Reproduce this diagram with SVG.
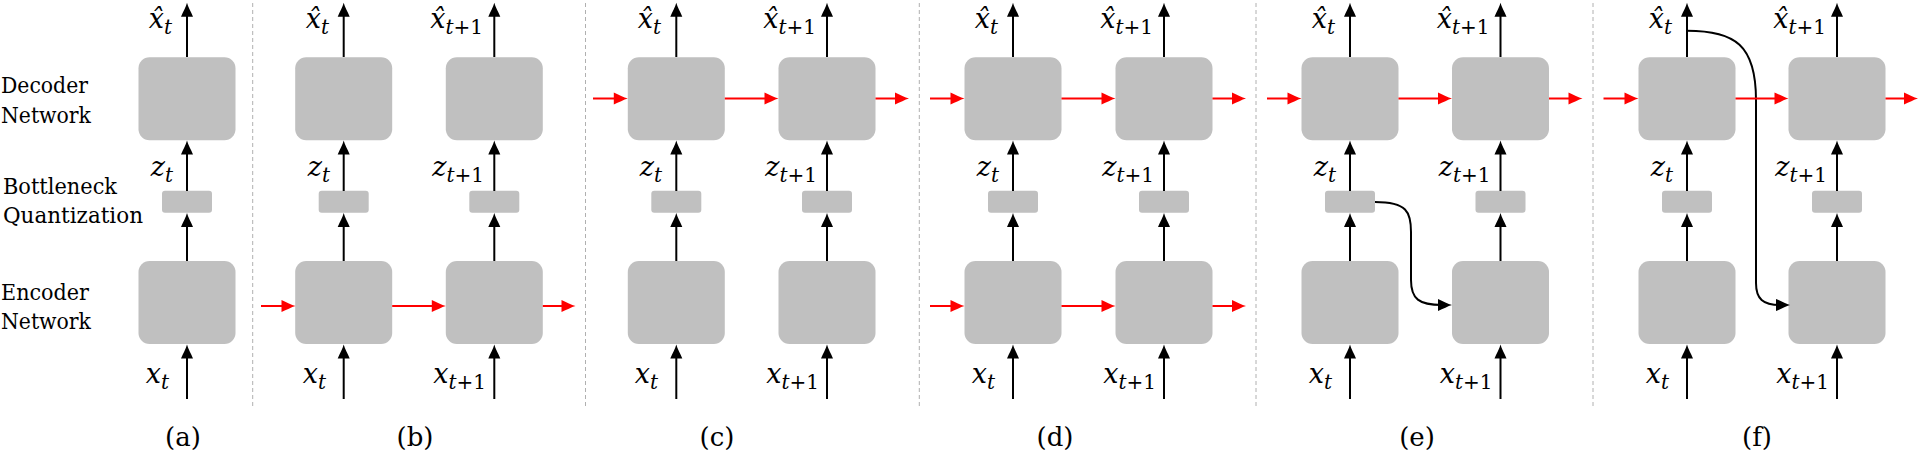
<svg xmlns="http://www.w3.org/2000/svg" width="1919" height="455" viewBox="0 0 1919 455">
<style>
.box{fill:#c0c0c0}
.ar{stroke:#000;stroke-width:2;fill:none;marker-end:url(#ah)}
.rd{stroke:#f00;stroke-width:2;fill:none;marker-end:url(#rh)}
.dv{stroke:#b0b0b0;stroke-width:1;stroke-dasharray:4 3}
.lbl{font-family:'DejaVu Serif','Liberation Serif',serif;font-size:21.5px;fill:#000}
.m{font-family:'DejaVu Serif','Liberation Serif',serif;font-style:italic;font-size:27px;fill:#000;text-anchor:end}
.s{font-size:20px}
.up{font-style:normal}
.cap{font-family:'DejaVu Serif','Liberation Serif',serif;font-size:26px;text-anchor:middle;fill:#000}
</style>
<defs>
<marker id="ah" markerUnits="userSpaceOnUse" markerWidth="20" markerHeight="20" refX="4" refY="0" orient="auto" overflow="visible">
<path d="M0,-6 C5,-4 10,-1 14,0 C10,1 5,4 0,6 Z" fill="#000"/>
</marker>
<marker id="rh" markerUnits="userSpaceOnUse" markerWidth="20" markerHeight="20" refX="4" refY="0" orient="auto" overflow="visible">
<path d="M0,-6 C5,-4 10,-1 14,0 C10,1 5,4 0,6 Z" fill="#f00"/>
</marker>
</defs>

<g id="side-labels">
<text class="lbl" x="1" y="93" textLength="87" lengthAdjust="spacingAndGlyphs">Decoder</text>
<text class="lbl" x="1" y="123" textLength="90" lengthAdjust="spacingAndGlyphs">Network</text>
<text class="lbl" x="3" y="194" textLength="114" lengthAdjust="spacingAndGlyphs">Bottleneck</text>
<text class="lbl" x="3" y="223" textLength="140" lengthAdjust="spacingAndGlyphs">Quantization</text>
<text class="lbl" x="1" y="300" textLength="88" lengthAdjust="spacingAndGlyphs">Encoder</text>
<text class="lbl" x="1" y="329" textLength="90" lengthAdjust="spacingAndGlyphs">Network</text>
</g>

<g id="dividers">
<line class="dv" x1="252.7" y1="3" x2="252.7" y2="406"/>
<line class="dv" x1="585.5" y1="3" x2="585.5" y2="406"/>
<line class="dv" x1="919.3" y1="3" x2="919.3" y2="406"/>
<line class="dv" x1="1256" y1="3" x2="1256" y2="406"/>
<line class="dv" x1="1593" y1="3" x2="1593" y2="406"/>
</g>

<g id="a-dec"><rect class="box" x="138.5" y="57.3" width="97" height="83" rx="11"/></g>
<g id="a-bn"><rect class="box" x="162" y="190.7" width="50" height="22" rx="3"/></g>
<g id="a-enc"><rect class="box" x="138.5" y="261" width="97" height="83" rx="11"/></g>
<g id="b1-dec"><rect class="box" x="295.2" y="57.3" width="97" height="83" rx="11"/></g>
<g id="b1-bn"><rect class="box" x="318.7" y="190.7" width="50" height="22" rx="3"/></g>
<g id="b1-enc"><rect class="box" x="295.2" y="261" width="97" height="83" rx="11"/></g>
<g id="b2-dec"><rect class="box" x="445.8" y="57.3" width="97" height="83" rx="11"/></g>
<g id="b2-bn"><rect class="box" x="469.3" y="190.7" width="50" height="22" rx="3"/></g>
<g id="b2-enc"><rect class="box" x="445.8" y="261" width="97" height="83" rx="11"/></g>
<g id="c1-dec"><rect class="box" x="627.8" y="57.3" width="97" height="83" rx="11"/></g>
<g id="c1-bn"><rect class="box" x="651.3" y="190.7" width="50" height="22" rx="3"/></g>
<g id="c1-enc"><rect class="box" x="627.8" y="261" width="97" height="83" rx="11"/></g>
<g id="c2-dec"><rect class="box" x="778.5" y="57.3" width="97" height="83" rx="11"/></g>
<g id="c2-bn"><rect class="box" x="802" y="190.7" width="50" height="22" rx="3"/></g>
<g id="c2-enc"><rect class="box" x="778.5" y="261" width="97" height="83" rx="11"/></g>
<g id="d1-dec"><rect class="box" x="964.5" y="57.3" width="97" height="83" rx="11"/></g>
<g id="d1-bn"><rect class="box" x="988" y="190.7" width="50" height="22" rx="3"/></g>
<g id="d1-enc"><rect class="box" x="964.5" y="261" width="97" height="83" rx="11"/></g>
<g id="d2-dec"><rect class="box" x="1115.5" y="57.3" width="97" height="83" rx="11"/></g>
<g id="d2-bn"><rect class="box" x="1139" y="190.7" width="50" height="22" rx="3"/></g>
<g id="d2-enc"><rect class="box" x="1115.5" y="261" width="97" height="83" rx="11"/></g>
<g id="e1-dec"><rect class="box" x="1301.5" y="57.3" width="97" height="83" rx="11"/></g>
<g id="e1-bn"><rect class="box" x="1325" y="190.7" width="50" height="22" rx="3"/></g>
<g id="e1-enc"><rect class="box" x="1301.5" y="261" width="97" height="83" rx="11"/></g>
<g id="e2-dec"><rect class="box" x="1452" y="57.3" width="97" height="83" rx="11"/></g>
<g id="e2-bn"><rect class="box" x="1475.5" y="190.7" width="50" height="22" rx="3"/></g>
<g id="e2-enc"><rect class="box" x="1452" y="261" width="97" height="83" rx="11"/></g>
<g id="f1-dec"><rect class="box" x="1638.5" y="57.3" width="97" height="83" rx="11"/></g>
<g id="f1-bn"><rect class="box" x="1662" y="190.7" width="50" height="22" rx="3"/></g>
<g id="f1-enc"><rect class="box" x="1638.5" y="261" width="97" height="83" rx="11"/></g>
<g id="f2-dec"><rect class="box" x="1788.5" y="57.3" width="97" height="83" rx="11"/></g>
<g id="f2-bn"><rect class="box" x="1812" y="190.7" width="50" height="22" rx="3"/></g>
<g id="f2-enc"><rect class="box" x="1788.5" y="261" width="97" height="83" rx="11"/></g>

<g id="connectors">
<path class="ar" d="M187,57 V12.7"/><path class="ar" d="M187,191 V150.5"/><path class="ar" d="M187,261 V223"/><path class="ar" d="M187,399 V354.5"/>
<path class="ar" d="M343.7,57 V12.7"/><path class="ar" d="M343.7,191 V150.5"/><path class="ar" d="M343.7,261 V223"/><path class="ar" d="M343.7,399 V354.5"/>
<path class="ar" d="M494.3,57 V12.7"/><path class="ar" d="M494.3,191 V150.5"/><path class="ar" d="M494.3,261 V223"/><path class="ar" d="M494.3,399 V354.5"/>
<path class="ar" d="M676.3,57 V12.7"/><path class="ar" d="M676.3,191 V150.5"/><path class="ar" d="M676.3,261 V223"/><path class="ar" d="M676.3,399 V354.5"/>
<path class="ar" d="M827,57 V12.7"/><path class="ar" d="M827,191 V150.5"/><path class="ar" d="M827,261 V223"/><path class="ar" d="M827,399 V354.5"/>
<path class="ar" d="M1013,57 V12.7"/><path class="ar" d="M1013,191 V150.5"/><path class="ar" d="M1013,261 V223"/><path class="ar" d="M1013,399 V354.5"/>
<path class="ar" d="M1164,57 V12.7"/><path class="ar" d="M1164,191 V150.5"/><path class="ar" d="M1164,261 V223"/><path class="ar" d="M1164,399 V354.5"/>
<path class="ar" d="M1350,57 V12.7"/><path class="ar" d="M1350,191 V150.5"/><path class="ar" d="M1350,261 V223"/><path class="ar" d="M1350,399 V354.5"/>
<path class="ar" d="M1500.5,57 V12.7"/><path class="ar" d="M1500.5,191 V150.5"/><path class="ar" d="M1500.5,261 V223"/><path class="ar" d="M1500.5,399 V354.5"/>
<path class="ar" d="M1687,57 V12.7"/><path class="ar" d="M1687,191 V150.5"/><path class="ar" d="M1687,261 V223"/><path class="ar" d="M1687,399 V354.5"/>
<path class="ar" d="M1837,57 V12.7"/><path class="ar" d="M1837,191 V150.5"/><path class="ar" d="M1837,261 V223"/><path class="ar" d="M1837,399 V354.5"/>
<path class="ar" d="M1375,202 C1407,202 1411,212 1411,232 L1411,280 C1411,299 1419,305 1442,305"/>
<path class="ar" d="M1687,30.7 C1735,30.7 1756,45 1756,100 L1756,283 C1756,299 1763,305 1780,305"/>
<path class="rd" d="M261,306 H285.5"/>
<path class="rd" d="M392.2,306 H435.8"/>
<path class="rd" d="M542.8,306 H565.5"/>
<path class="rd" d="M593,98.5 H617.8"/>
<path class="rd" d="M724.8,98.5 H768.5"/>
<path class="rd" d="M875.5,98.5 H899"/>
<path class="rd" d="M930,98.5 H954.5"/>
<path class="rd" d="M1061.5,98.5 H1105.5"/>
<path class="rd" d="M1212.5,98.5 H1236"/>
<path class="rd" d="M930,306 H954.5"/>
<path class="rd" d="M1061.5,306 H1105.5"/>
<path class="rd" d="M1212.5,306 H1236"/>
<path class="rd" d="M1267,98.5 H1291.5"/>
<path class="rd" d="M1398.5,98.5 H1442"/>
<path class="rd" d="M1549,98.5 H1572.5"/>
<path class="rd" d="M1603.5,98.5 H1628.5"/>
<path class="rd" d="M1735.5,98.5 H1778.5"/>
<path class="rd" d="M1885.5,98.5 H1908"/>
</g>

<g id="math-labels">
<text class="m" x="172" y="28">x̂<tspan class="s" dy="6">t</tspan></text>
<text class="m" x="173" y="176">z<tspan class="s" dy="6">t</tspan></text>
<text class="m" x="169" y="383">x<tspan class="s" dy="6">t</tspan></text>

<text class="m" x="329" y="28">x̂<tspan class="s" dy="6">t</tspan></text>
<text class="m" x="330" y="176">z<tspan class="s" dy="6">t</tspan></text>
<text class="m" x="326" y="383">x<tspan class="s" dy="6">t</tspan></text>
<text class="m" x="483" y="28">x̂<tspan class="s" dy="6">t<tspan class="up">+1</tspan></tspan></text>
<text class="m" x="484" y="176">z<tspan class="s" dy="6">t<tspan class="up">+1</tspan></tspan></text>
<text class="m" x="486" y="383">x<tspan class="s" dy="6">t<tspan class="up">+1</tspan></tspan></text>

<text class="m" x="661" y="28">x̂<tspan class="s" dy="6">t</tspan></text>
<text class="m" x="662" y="176">z<tspan class="s" dy="6">t</tspan></text>
<text class="m" x="658" y="383">x<tspan class="s" dy="6">t</tspan></text>
<text class="m" x="816" y="28">x̂<tspan class="s" dy="6">t<tspan class="up">+1</tspan></tspan></text>
<text class="m" x="817" y="176">z<tspan class="s" dy="6">t<tspan class="up">+1</tspan></tspan></text>
<text class="m" x="819" y="383">x<tspan class="s" dy="6">t<tspan class="up">+1</tspan></tspan></text>

<text class="m" x="998" y="28">x̂<tspan class="s" dy="6">t</tspan></text>
<text class="m" x="999" y="176">z<tspan class="s" dy="6">t</tspan></text>
<text class="m" x="995" y="383">x<tspan class="s" dy="6">t</tspan></text>
<text class="m" x="1153" y="28">x̂<tspan class="s" dy="6">t<tspan class="up">+1</tspan></tspan></text>
<text class="m" x="1154" y="176">z<tspan class="s" dy="6">t<tspan class="up">+1</tspan></tspan></text>
<text class="m" x="1156" y="383">x<tspan class="s" dy="6">t<tspan class="up">+1</tspan></tspan></text>

<text class="m" x="1335" y="28">x̂<tspan class="s" dy="6">t</tspan></text>
<text class="m" x="1336" y="176">z<tspan class="s" dy="6">t</tspan></text>
<text class="m" x="1332" y="383">x<tspan class="s" dy="6">t</tspan></text>
<text class="m" x="1489.5" y="28">x̂<tspan class="s" dy="6">t<tspan class="up">+1</tspan></tspan></text>
<text class="m" x="1490.5" y="176">z<tspan class="s" dy="6">t<tspan class="up">+1</tspan></tspan></text>
<text class="m" x="1492.5" y="383">x<tspan class="s" dy="6">t<tspan class="up">+1</tspan></tspan></text>

<text class="m" x="1672" y="28">x̂<tspan class="s" dy="6">t</tspan></text>
<text class="m" x="1673" y="176">z<tspan class="s" dy="6">t</tspan></text>
<text class="m" x="1669" y="383">x<tspan class="s" dy="6">t</tspan></text>
<text class="m" x="1826" y="28">x̂<tspan class="s" dy="6">t<tspan class="up">+1</tspan></tspan></text>
<text class="m" x="1827" y="176">z<tspan class="s" dy="6">t<tspan class="up">+1</tspan></tspan></text>
<text class="m" x="1829" y="383">x<tspan class="s" dy="6">t<tspan class="up">+1</tspan></tspan></text>
</g>

<g id="captions">
<text class="cap" x="183" y="446">(a)</text>
<text class="cap" x="415" y="446">(b)</text>
<text class="cap" x="717" y="446">(c)</text>
<text class="cap" x="1055" y="446">(d)</text>
<text class="cap" x="1417" y="446">(e)</text>
<text class="cap" x="1757" y="446">(f)</text>
</g>
</svg>
